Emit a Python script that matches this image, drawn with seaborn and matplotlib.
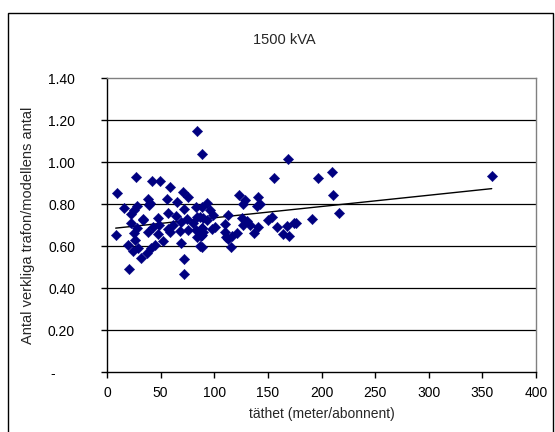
import matplotlib
matplotlib.use("Agg")
import matplotlib.pyplot as plt
import seaborn as sns
import pandas as pd
from matplotlib.patches import Rectangle

# Density (meter per subscriber) and ratio actual/modelled transformers, 1500 kVA
tathet = [
    27.0, 9.0, 42.3, 49.4, 58.7, 70.6, 75.8, 38.2, 55.6, 65.3,
    39.4, 16.2, 27.7, 25.5, 22.4, 71.8, 83.0, 57.2, 64.3, 33.6,
    47.9, 74.9, 83.6, 22.4, 68.7, 43.2, 48.8, 61.2, 56.6, 37.9,
    68.0, 8.1, 25.5, 47.9, 58.7, 83.6, 87.6, 26.1, 52.5, 69.0,
    44.8, 19.9, 29.2, 86.7, 41.0, 24.5, 37.0, 31.4, 71.8, 20.8,
    71.8, 79.9, 27.7, 82.7, 88.3, 40.0, 33.3, 75.8, 86.7,
    155.7, 123.4, 128.7, 127.1, 141.1, 142.7, 139.6, 93.5, 96.0, 99.1,
    112.5, 89.8, 125.6, 153.6, 150.4, 110.0, 130.3, 133.3, 127.1, 141.1,
    158.8, 167.5, 174.6, 100.7, 97.6, 88.3, 110.0, 137.3, 164.4, 170.0,
    121.0, 116.3, 113.1, 88.3, 115.6, 88.3, 93.0, 88.3, 89.8, 111.0,
    209.5, 197.0, 210.4, 216.6, 191.4, 176.0,
    83.6, 88.9, 169.0, 358.7,
]
kvot = [
    0.927, 0.851, 0.910, 0.910, 0.880, 0.859, 0.832, 0.822, 0.824, 0.811,
    0.795, 0.779, 0.792, 0.771, 0.751, 0.776, 0.784, 0.756, 0.744, 0.729,
    0.735, 0.729, 0.740, 0.708, 0.716, 0.692, 0.700, 0.700, 0.679, 0.665,
    0.673, 0.652, 0.660, 0.656, 0.668, 0.644, 0.648, 0.629, 0.624, 0.616,
    0.605, 0.605, 0.589, 0.600, 0.589, 0.576, 0.568, 0.544, 0.537, 0.489,
    0.465, 0.708, 0.684, 0.676, 0.684, 0.803, 0.724, 0.676, 0.740,
    0.922, 0.843, 0.819, 0.800, 0.832, 0.800, 0.792, 0.803, 0.771, 0.748,
    0.748, 0.732, 0.732, 0.740, 0.724, 0.703, 0.719, 0.700, 0.700, 0.692,
    0.692, 0.695, 0.711, 0.692, 0.681, 0.684, 0.668, 0.663, 0.657, 0.649,
    0.660, 0.649, 0.633, 0.652, 0.597, 0.597, 0.724, 0.787, 0.668, 0.644,
    0.951, 0.922, 0.843, 0.756, 0.729, 0.711,
    1.148, 1.038, 1.014, 0.932,
]

y_ticks = [0.0, 0.2, 0.4, 0.6, 0.8, 1.0, 1.2, 1.4]
y_tick_labels = ["-     ", "0.20", "0.40", "0.60", "0.80", "1.00", "1.20", "1.40"]
x_ticks = [0, 50, 100, 150, 200, 250, 300, 350, 400]

df = pd.DataFrame({"tathet": tathet, "kvot": kvot})

sns.set_style("white")
plt.rcParams["font.family"] = ["Liberation Sans", "DejaVu Sans"]

W, H = 555, 432
fig = plt.figure(figsize=(W / 100, H / 100), dpi=100)
fig.patch.set_facecolor("white")

# outer chart border
fig.patches.append(Rectangle((8 / W, -0.05), 545 / W, 1.05 - 13 / H,
                             transform=fig.transFigure, fill=False,
                             edgecolor="black", linewidth=1.0))

ax = fig.add_axes([107 / W, 1 - 372 / H, (536 - 107) / W, (372 - 78) / H])

sns.scatterplot(data=df, x="tathet", y="kvot", marker="D", s=28,
                color="#000080", edgecolor="#000080", linewidth=0.3,
                ax=ax, zorder=3)
sns.regplot(data=df, x="tathet", y="kvot", scatter=False, ci=None,
            truncate=True, color="black", line_kws={"linewidth": 1.0},
            ax=ax)

ax.set_xlim(0, 400)
ax.set_ylim(0, 1.4)
ax.set_xticks(x_ticks)
ax.set_yticks(y_ticks)
ax.set_yticklabels(y_tick_labels)

for yv in y_ticks[1:-1]:
    ax.axhline(yv, color="black", linewidth=0.9, zorder=1)

for side in ["top", "right"]:
    ax.spines[side].set_color("#808080")
    ax.spines[side].set_linewidth(1.0)
for side in ["left", "bottom"]:
    ax.spines[side].set_color("black")
    ax.spines[side].set_linewidth(1.0)

ax.tick_params(axis="both", which="major", direction="out", length=4,
               width=1.0, color="black", labelsize=10, labelcolor="black",
               left=True, bottom=True)
ax.tick_params(axis="y", pad=19)
ax.tick_params(axis="x", pad=6)

ax.set_xlabel("täthet (meter/abonnent)", fontsize=10, labelpad=5)
ax.set_ylabel("Antal verkliga trafon/modellens antal", fontsize=10.5, labelpad=9)

fig.text(284 / W, 1 - 40 / H, "1500 kVA", ha="center", va="center", fontsize=10.5)

fig.savefig("out.png", dpi=100, facecolor="white")
